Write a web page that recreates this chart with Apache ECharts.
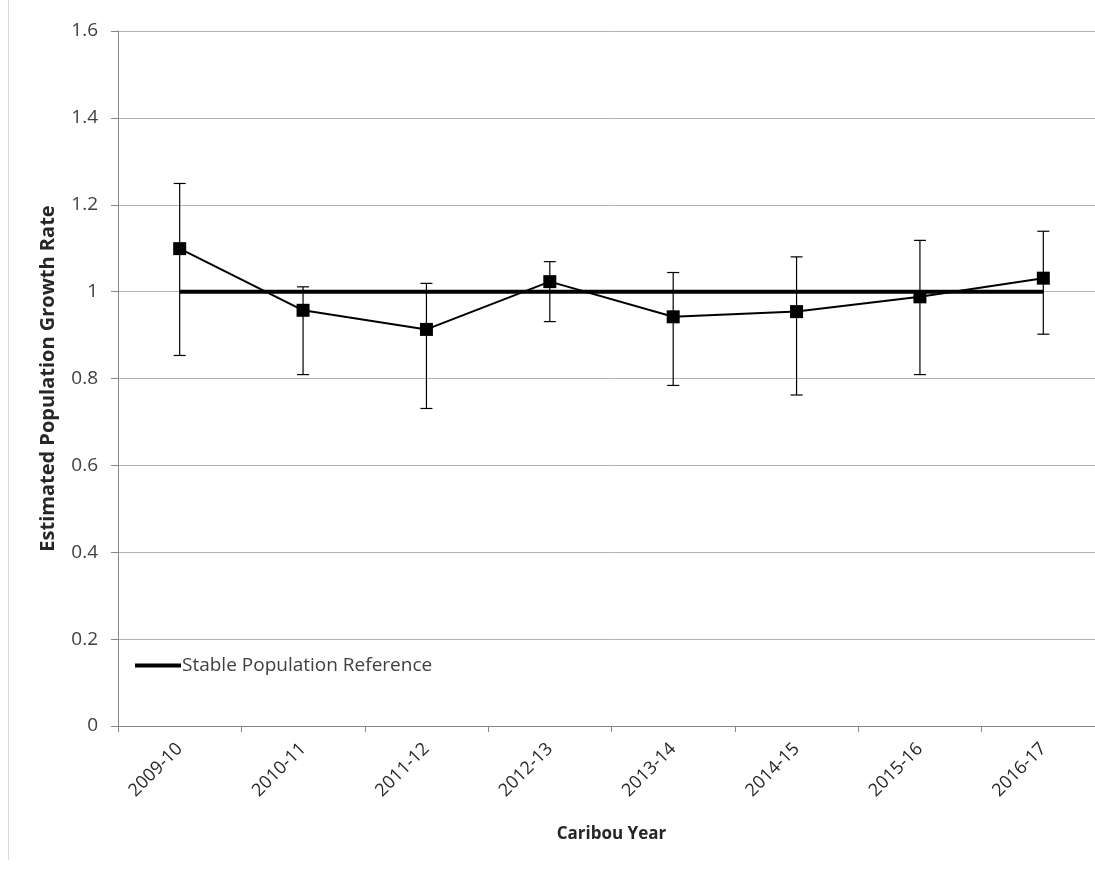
<!DOCTYPE html>
<html>
<head>
<meta charset="utf-8">
<script src="https://cdn.jsdelivr.net/npm/echarts@6/dist/echarts.min.js"></script>
<style>
html,body{margin:0;padding:0;background:#fff;overflow:hidden;}
#chart{width:1110px;height:871px;}
</style>
</head>
<body>
<div id="chart"></div>
<script>
const categories = ['2009-10','2010-11','2011-12','2012-13','2013-14','2014-15','2015-16','2016-17'];
const growthRate = [1.099, 0.957, 0.913, 1.023, 0.942, 0.954, 0.988, 1.031];
const upperCI   = [1.249, 1.011, 1.019, 1.069, 1.044, 1.080, 1.118, 1.139];
const lowerCI   = [0.853, 0.809, 0.731, 0.931, 0.784, 0.762, 0.809, 0.902];
const stableRef = [1, 1, 1, 1, 1, 1, 1, 1];
const yTicks = [0, 0.2, 0.4, 0.6, 0.8, 1, 1.2, 1.4, 1.6];

const FONT = 'Open Sans';
const errData = categories.map((c, i) => [i, lowerCI[i], upperCI[i]]);

const chart = echarts.init(document.getElementById('chart'), null, {renderer: 'canvas', width: 1110, height: 871});
chart.setOption({
  backgroundColor: '#fff',
  animation: false,
  textStyle: {fontFamily: FONT},
  graphic: [{
    type: 'line', shape: {x1: 8.5, y1: 0, x2: 8.5, y2: 860},
    style: {stroke: '#d9d9d9', lineWidth: 1}, silent: true
  }],
  grid: {left: 118, top: 31, width: 987, height: 695, containLabel: false},
  legend: {
    data: ['Stable Population Reference'],
    left: 130, top: 651,
    itemWidth: 46, itemHeight: 4, itemGap: 4,
    icon: 'rect',
    textStyle: {fontFamily: FONT, fontSize: 19, color: '#404040', padding: [0,0,0,-4]},
    selectedMode: false
  },
  xAxis: {
    type: 'category',
    data: categories,
    boundaryGap: true,
    name: 'Caribou Year',
    nameLocation: 'middle',
    nameGap: 100,
    nameMoveOverlap: false,
    nameTextStyle: {fontFamily: FONT, fontSize: 17, fontWeight: 'bold', color: '#262626'},
    axisLine: {lineStyle: {color: '#868686', width: 1}},
    axisTick: {show: true, length: 6, lineStyle: {color: '#868686'}},
    axisLabel: {rotate: 45, fontFamily: FONT, fontSize: 18, color: '#262626', margin: 20},
    splitLine: {show: false}
  },
  yAxis: {
    type: 'value',
    min: 0, max: 1.6, interval: 0.2,
    name: 'Estimated Population Growth Rate',
    nameLocation: 'middle',
    nameGap: 60,
    nameRotate: 90,
    nameTextStyle: {fontFamily: FONT, fontSize: 20, fontWeight: 'bold', color: '#262626'},
    axisLine: {show: true, lineStyle: {color: '#868686', width: 1}},
    axisTick: {show: true, length: 7, lineStyle: {color: '#868686'}},
    axisLabel: {fontFamily: FONT, fontSize: 19, color: '#404040', margin: 20,
      formatter: v => { const t = yTicks.find(x => Math.abs(x - v) < 1e-9); return t === undefined ? '' : String(t); }},
    splitLine: {show: true, lineStyle: {color: '#b3b3b3', width: 1}}
  },
  series: [
    {
      name: 'Stable Population Reference',
      type: 'line',
      data: stableRef,
      symbol: 'none',
      lineStyle: {color: '#000', width: 4},
      itemStyle: {color: '#000'},
      z: 2
    },
    {
      name: 'Error',
      type: 'custom',
      data: errData,
      z: 3,
      renderItem: function (params, api) {
        const x = api.value(0);
        const lo = api.coord([x, api.value(1)]);
        const hi = api.coord([x, api.value(2)]);
        const hw = 6;
        const st = {stroke: '#000', lineWidth: 1.2, fill: null};
        return {
          type: 'group',
          children: [
            {type: 'line', shape: {x1: hi[0], y1: hi[1], x2: lo[0], y2: lo[1]}, style: st},
            {type: 'line', shape: {x1: hi[0]-hw, y1: hi[1], x2: hi[0]+hw, y2: hi[1]}, style: st},
            {type: 'line', shape: {x1: lo[0]-hw, y1: lo[1], x2: lo[0]+hw, y2: lo[1]}, style: st}
          ]
        };
      }
    },
    {
      name: 'Growth Rate',
      type: 'line',
      data: growthRate,
      symbol: 'rect',
      symbolSize: 13,
      lineStyle: {color: '#000', width: 2},
      itemStyle: {color: '#000'},
      z: 4
    }
  ]
});
</script>
</body>
</html>
